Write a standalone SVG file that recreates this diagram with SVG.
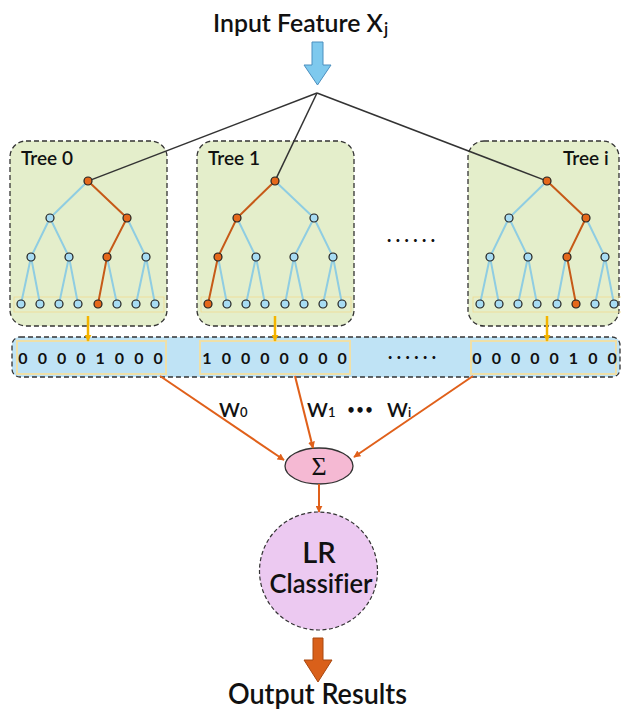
<svg xmlns="http://www.w3.org/2000/svg" width="621" height="709" viewBox="0 0 621 709">
<style>
.title{font-family:Lato,"Open Sans",sans-serif;font-weight:600;fill:#111;font-variant-ligatures:none}
.tree-box{fill:#e4eecb;stroke:#333;stroke-width:1.3;stroke-dasharray:5,3}
.tree-lbl{font-family:Lato,"Open Sans",sans-serif;font-weight:600;font-size:19px;fill:#111}
.eb{stroke:#8fcde2;stroke-width:2;fill:none}
.eo{stroke:#c65a18;stroke-width:2;fill:none}
.nb{fill:#a8dcf3;stroke:#222;stroke-width:1.2}
.no{fill:#e5681b;stroke:#222;stroke-width:1.2}
.band{fill:none;stroke:#f1d98f;stroke-width:0.8}
.bits{font-family:Lato,"Open Sans",sans-serif;font-weight:700;font-size:16px;fill:#111;text-anchor:middle}
.inner{fill:#bfe3f5;stroke:#efe0a8;stroke-width:2}
.conv{stroke:#333;stroke-width:1.5;fill:none}
.ylw{stroke:#f4b400;stroke-width:2.5;fill:none}
.org{stroke:#e0601a;stroke-width:2;fill:none}
.w{font-family:Lato,"Open Sans",sans-serif;font-weight:600;font-size:20px;fill:#111}
.ws{font-size:13px}
.dots{font-family:Lato,"Open Sans",sans-serif;font-weight:900;font-size:18px;fill:#111}
.bul{font-family:"DejaVu Sans",sans-serif;font-weight:700;font-size:15px;fill:#111;text-anchor:middle}
</style>
<defs>
<marker id="ao" viewBox="0 0 10 10" refX="9" refY="5" markerWidth="7" markerHeight="7" markerUnits="userSpaceOnUse" orient="auto"><path d="M0,0L10,5L0,10z" fill="#e0601a"/></marker>
<marker id="ay" viewBox="0 0 10 10" refX="9" refY="5" markerWidth="7" markerHeight="7" markerUnits="userSpaceOnUse" orient="auto"><path d="M0,0L10,5L0,10z" fill="#f4b400"/></marker>
</defs>

<g id="input">
<text class="title" x="213" y="32" font-size="25"><tspan textLength="170" lengthAdjust="spacingAndGlyphs">Input Feature X</tspan><tspan font-size="17" dy="3" dx="1">j</tspan></text>
<path d="M312,42H323V65H331L317.5,85L304,65H312Z" fill="#7ec9ee" stroke="#4b8fbf" stroke-width="1"/>
</g>

<g id="tree0">
<rect class="tree-box" x="10" y="141" width="157" height="185" rx="16"/>
<text class="tree-lbl" x="21" y="165">Tree 0</text>
<rect class="band" x="14" y="297" width="150" height="15"/>
<path class="eb" d="M88,181L50,218M50,218L31,257M50,218L69,257M127,218L146,257M31,257L21,304M31,257L40,304M69,257L59,304M69,257L78,304M107,257L117,304M146,257L136,304M146,257L155,304"/>
<path class="eo" d="M88,181L127,218L107,257L98,304"/>
<g class="nb"><circle cx="50" cy="218" r="4"/><circle cx="31" cy="257" r="4"/><circle cx="69" cy="257" r="4"/><circle cx="146" cy="257" r="4"/>
<circle cx="21" cy="304" r="4"/><circle cx="40" cy="304" r="4"/><circle cx="59" cy="304" r="4"/><circle cx="78" cy="304" r="4"/><circle cx="117" cy="304" r="4"/><circle cx="136" cy="304" r="4"/><circle cx="155" cy="304" r="4"/></g>
<g class="no"><circle cx="88" cy="181" r="4"/><circle cx="127" cy="218" r="4"/><circle cx="107" cy="257" r="4"/><circle cx="98" cy="304" r="4"/></g>
</g>

<g id="tree1">
<rect class="tree-box" x="197" y="141" width="157" height="185" rx="16"/>
<text class="tree-lbl" x="208" y="165">Tree 1</text>
<g transform="translate(187,0)">
<rect class="band" x="14" y="297" width="150" height="15"/>
<path class="eb" d="M88,181L127,218M50,218L69,257M127,218L107,257M127,218L146,257M31,257L40,304M69,257L59,304M69,257L78,304M107,257L98,304M107,257L117,304M146,257L136,304M146,257L155,304"/>
<path class="eo" d="M88,181L50,218L31,257L21,304"/>
<g class="nb"><circle cx="127" cy="218" r="4"/><circle cx="69" cy="257" r="4"/><circle cx="107" cy="257" r="4"/><circle cx="146" cy="257" r="4"/>
<circle cx="40" cy="304" r="4"/><circle cx="59" cy="304" r="4"/><circle cx="78" cy="304" r="4"/><circle cx="98" cy="304" r="4"/><circle cx="117" cy="304" r="4"/><circle cx="136" cy="304" r="4"/><circle cx="155" cy="304" r="4"/></g>
<g class="no"><circle cx="88" cy="181" r="4"/><circle cx="50" cy="218" r="4"/><circle cx="31" cy="257" r="4"/><circle cx="21" cy="304" r="4"/></g>
</g>
</g>

<g id="ellipsis-trees"><text class="dots" x="387" y="242" textLength="48" lengthAdjust="spacing">......</text></g>

<g id="treei">
<rect class="tree-box" x="468" y="141" width="151" height="185" rx="16"/>
<text class="tree-lbl" x="563" y="165">Tree i</text>
<g transform="translate(459,0)">
<rect class="band" x="14" y="297" width="150" height="15"/>
<path class="eb" d="M88,181L50,218M50,218L31,257M50,218L69,257M127,218L146,257M31,257L21,304M31,257L40,304M69,257L59,304M69,257L78,304M107,257L98,304M146,257L136,304M146,257L155,304"/>
<path class="eo" d="M88,181L127,218L108,257L117,304"/>
<g class="nb"><circle cx="50" cy="218" r="4"/><circle cx="31" cy="257" r="4"/><circle cx="69" cy="257" r="4"/><circle cx="146" cy="257" r="4"/>
<circle cx="21" cy="304" r="4"/><circle cx="40" cy="304" r="4"/><circle cx="59" cy="304" r="4"/><circle cx="78" cy="304" r="4"/><circle cx="98" cy="304" r="4"/><circle cx="136" cy="304" r="4"/><circle cx="155" cy="304" r="4"/></g>
<g class="no"><circle cx="88" cy="181" r="4"/><circle cx="127" cy="218" r="4"/><circle cx="108" cy="257" r="4"/><circle cx="117" cy="304" r="4"/></g>
</g>
</g>

<g id="vectors">
<rect x="12" y="337" width="608" height="40" rx="8" fill="#bfe3f5" stroke="#333" stroke-width="1.3" stroke-dasharray="5,3"/>
<rect class="inner" x="17" y="341" width="149" height="33"/>
<rect class="inner" x="200" y="341" width="150" height="33"/>
<rect class="inner" x="471" y="341" width="145" height="33"/>
<text class="bits" y="364"><tspan x="23">0</tspan><tspan x="42.3">0</tspan><tspan x="61.6">0</tspan><tspan x="80.9">0</tspan><tspan x="100.2">1</tspan><tspan x="119.5">0</tspan><tspan x="138.8">0</tspan><tspan x="158.1">0</tspan></text>
<text class="bits" y="364"><tspan x="207">1</tspan><tspan x="226.3">0</tspan><tspan x="245.6">0</tspan><tspan x="264.9">0</tspan><tspan x="284.2">0</tspan><tspan x="303.5">0</tspan><tspan x="322.8">0</tspan><tspan x="342.1">0</tspan></text>
<text class="dots" x="388" y="359" textLength="48" lengthAdjust="spacing">......</text>
<text class="bits" y="364"><tspan x="477">0</tspan><tspan x="496.3">0</tspan><tspan x="515.6">0</tspan><tspan x="534.9">0</tspan><tspan x="554.2">0</tspan><tspan x="573.5">1</tspan><tspan x="592.8">0</tspan><tspan x="612.1">0</tspan></text>
</g>

<g id="weights">
<text class="w" x="219" y="417">W<tspan class="ws">0</tspan></text>
<text class="w" x="307" y="417">W<tspan class="ws">1</tspan></text>
<text class="bul" y="416"><tspan x="351">•</tspan><tspan x="360">•</tspan><tspan x="369">•</tspan></text>
<text class="w" x="387" y="417">W<tspan class="ws">i</tspan></text>
</g>

<g id="sum">
<ellipse cx="319" cy="466" rx="34" ry="18" fill="#f5b9d3" stroke="#333" stroke-width="1.3"/>
<text x="319" y="475" text-anchor="middle" font-family="'Liberation Serif',serif" font-size="26" fill="#111">Σ</text>
</g>

<g id="classifier">
<circle cx="318.5" cy="571" r="59" fill="#ecc9f1" stroke="#333" stroke-width="1.2" stroke-dasharray="4,2.5"/>
<text class="title" x="319" y="563" text-anchor="middle" font-size="29">LR</text>
<text class="title" x="321" y="593" text-anchor="middle" font-size="26" textLength="103" lengthAdjust="spacingAndGlyphs">Classifier</text>
</g>

<g id="output">
<path d="M313,638H323V660H332L318,682L304,660H313Z" fill="#d9601a" stroke="#a84810" stroke-width="1"/>
<text class="title" x="228" y="704" font-size="28" textLength="179" lengthAdjust="spacingAndGlyphs">Output Results</text>
</g>

<g id="connectors">
<line class="conv" x1="317" y1="93" x2="91.7" y2="179.6"/>
<line class="conv" x1="317" y1="93" x2="276.7" y2="177.4"/>
<line class="conv" x1="317" y1="93" x2="543.3" y2="179.6"/>
<line class="ylw" x1="88" y1="316" x2="88" y2="341" marker-end="url(#ay)"/>
<line class="ylw" x1="275" y1="316" x2="275" y2="341" marker-end="url(#ay)"/>
<line class="ylw" x1="547" y1="316" x2="547" y2="341" marker-end="url(#ay)"/>
<line class="org" x1="160" y1="376" x2="284" y2="460" marker-end="url(#ao)"/>
<line class="org" x1="295" y1="376" x2="313" y2="448" marker-end="url(#ao)"/>
<line class="org" x1="473" y1="376" x2="354" y2="457" marker-end="url(#ao)"/>
<line class="org" x1="319" y1="484" x2="319" y2="512" marker-end="url(#ao)"/>
</g>
</svg>
